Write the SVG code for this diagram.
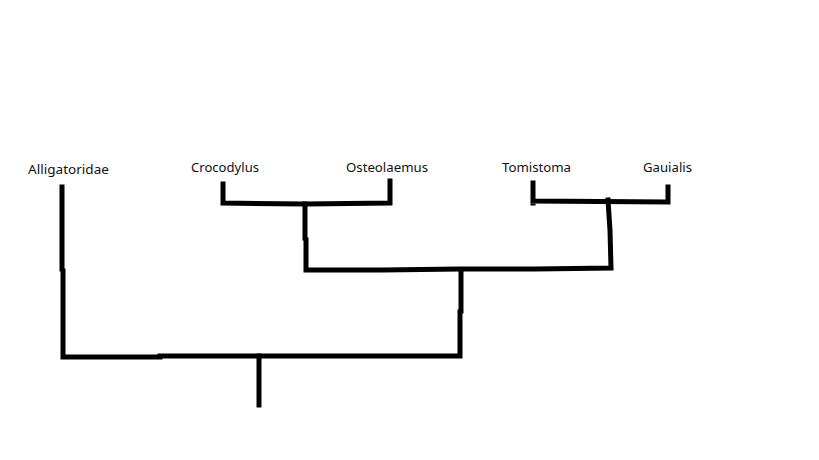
<svg xmlns="http://www.w3.org/2000/svg" width="819" height="460" viewBox="0 0 819 460">
<style>
.lbl{font-family:"Noto Sans","Open Sans","Liberation Sans",sans-serif;font-size:13px;fill:#111}
.e{stroke:#000;stroke-width:5;fill:none;stroke-linecap:square;stroke-linejoin:miter}
</style>
<rect width="819" height="460" fill="#fff"/>
<g id="connectors">
<path class="e" d="M62,187 L62,269 M63,271 L63,357 L160,357 M160,356 L459,356 M461,270 L461,311 M460,312 L460,356"/>
<path class="e" d="M259,356 L259,405"/>
<path class="e" d="M305,204 L305,238 M306,240 L306,270 L383,270 L460,269 L535,269 L611,268 L610,230 L608,200"/>
<path class="e" d="M223,184 L223,203 L305,204 L390,203 L390,181"/>
<path class="e" d="M533,183 L533,203 M533,201 L668,202 L668,187"/>
</g>
<g id="n-alligatoridae"><text class="lbl" x="28" y="174" textLength="81" lengthAdjust="spacingAndGlyphs">Alligatoridae</text></g>
<g id="n-crocodylus"><text class="lbl" x="191" y="172" textLength="68" lengthAdjust="spacingAndGlyphs">Crocodylus</text></g>
<g id="n-osteolaemus"><text class="lbl" x="346" y="172" textLength="82" lengthAdjust="spacingAndGlyphs">Osteolaemus</text></g>
<g id="n-tomistoma"><text class="lbl" x="502" y="172" textLength="69" lengthAdjust="spacingAndGlyphs">Tomistoma</text></g>
<g id="n-gauialis"><text class="lbl" x="643" y="172" textLength="49" lengthAdjust="spacingAndGlyphs">Gauialis</text></g>
</svg>
